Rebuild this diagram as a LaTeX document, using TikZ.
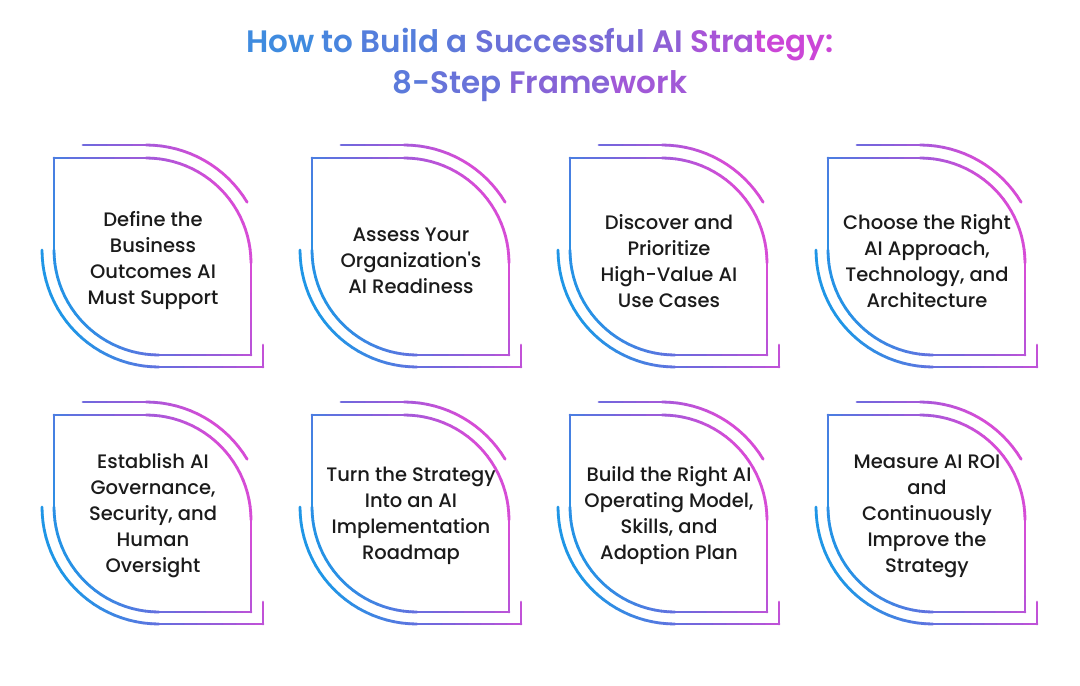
\documentclass[tikz,border=0pt]{standalone}
\usepackage{fontspec}
\newfontfamily\bodyfont{Poppins Medium}
\newfontfamily\titlefont{Poppins SemiBold}
\definecolor{gA}{HTML}{1F96E6}
\definecolor{gB}{HTML}{7B63DC}
\definecolor{gC}{HTML}{D64CD6}
\definecolor{hA}{HTML}{3A8EE0}
\definecolor{hB}{HTML}{7A68D6}
\definecolor{hC}{HTML}{E03ED8}
\definecolor{textc}{HTML}{1B1B1B}
\newcommand\setgc[2]{%
  \pgfmathsetmacro\gT{min(1,max(0,((#1)+0.39*(130-(#2)))/205))}%
  \pgfmathsetmacro\gP{\gT<0.5 ? 200*\gT : 200*\gT-100}%
  \ifdim\gT pt<0.5pt \colorlet{segc}{gB!\gP!gA}\else\colorlet{segc}{gC!\gP!gB}\fi}
\newcommand\gline[5]{%
  \foreach \k in {1,...,#5}{%
    \pgfmathsetmacro\gXa{#1+(#3-(#1))*(\k-1)/#5}%
    \pgfmathsetmacro\gYa{#2+(#4-(#2))*(\k-1)/#5}%
    \pgfmathsetmacro\gXb{#1+(#3-(#1))*\k/#5}%
    \pgfmathsetmacro\gYb{#2+(#4-(#2))*\k/#5}%
    \setgc{(\gXa+\gXb)/2}{(\gYa+\gYb)/2}%
    \draw[gstroke, draw=segc] ({\ox+\gXa},{\oy+\gYa}) -- ({\ox+\gXb},{\oy+\gYb});
  }}
\newcommand\garc[6]{%
  \foreach \k in {1,...,#6}{%
    \pgfmathsetmacro\gAa{#4+(#5-(#4))*(\k-1)/#6}%
    \pgfmathsetmacro\gAb{#4+(#5-(#4))*\k/#6}%
    \pgfmathsetmacro\gXa{#1+#3*cos(\gAa)}%
    \pgfmathsetmacro\gYa{#2-#3*sin(\gAa)}%
    \pgfmathsetmacro\gXb{#1+#3*cos(\gAb)}%
    \pgfmathsetmacro\gYb{#2-#3*sin(\gAb)}%
    \pgfmathsetmacro\gAm{(\gAa+\gAb)/2}%
    \setgc{#1+#3*cos(\gAm)}{#2-#3*sin(\gAm)}%
    \draw[gstroke, draw=segc] ({\ox+\gXa},{\oy+\gYa}) -- ({\ox+\gXb},{\oy+\gYb});
  }}
\newcommand\gcorner[3]{%
  \setgc{#1}{#2}%
  \ifx#3t\draw[cornerstroke, draw=segc] ({\ox+#1},{\oy+#2+8}) -- ({\ox+#1},{\oy+#2}) -- ({\ox+#1+8},{\oy+#2});
  \else\draw[cornerstroke, draw=segc] ({\ox+#1},{\oy+#2-8}) -- ({\ox+#1},{\oy+#2}) -- ({\ox+#1-8},{\oy+#2});\fi}
\newcommand\drawcard[2]{%
  \def\ox{#1}\def\oy{#2}%
  % inner frame
  \gline{0}{92}{0}{0}{6}%
  \gline{0}{0}{92}{0}{6}%
  \garc{92}{105}{105}{90}{0}{24}%
  \gline{197}{105}{197}{197}{6}%
  \gline{197}{197}{105}{197}{6}%
  \garc{105}{92}{105}{270}{180}{24}%
  \gcorner{0}{0}{t}%
  \gcorner{197}{197}{b}%
  % outer top arc
  \gline{29}{-13}{92}{-13}{5}%
  \garc{92}{105}{118}{90}{31}{16}%
  % outer bottom bracket
  \garc{105}{92}{117}{180}{270}{24}%
  \gline{105}{209}{209}{209}{8}%
  \gline{209}{209}{209}{187}{2}%
  \gcorner{209}{209}{b}%
}
\newcommand\tw[2]{\pgfmathsetmacro\gP{#1<0.5 ? 200*#1 : 200*#1-100}%
  \ifdim#1pt<0.5pt\colorlet{tc}{hB!\gP!hA}\else\colorlet{tc}{hC!\gP!hB}\fi\textcolor{tc}{#2}}
\begin{document}
\begin{tikzpicture}[x=1pt,y=-1pt,
  gstroke/.style={line width=2.8pt, line cap=round},
  cornerstroke/.style={line width=2.8pt, line cap=butt, line join=miter},
  cardtext/.style={align=center, text=textc, font=\bodyfont\fontsize{19.5}{26}\selectfont, inner sep=0pt},
  titletext/.style={anchor=base, font=\titlefont\fontsize{31}{38}\selectfont, inner sep=0pt}]
\fill[white] (0,0) rectangle (1080,686);
\useasboundingbox (0,0) rectangle (1080,686);
% title
\node[titletext] (title1) at (540,52) {\tw{0.04}{How} \tw{0.12}{to} \tw{0.21}{Build} \tw{0.28}{a} \tw{0.38}{Succe}\tw{0.49}{ssful} \tw{0.60}{AI} \tw{0.72}{Stra}\tw{0.90}{tegy:}};
\node[titletext] (title2) at (540,93) {\tw{0.26}{8-}\tw{0.36}{Step} \tw{0.56}{Frame}\tw{0.69}{work}};
% cards
\drawcard{54}{158}
\drawcard{312}{158}
\drawcard{570}{158}
\drawcard{828}{158}
\drawcard{54}{415}
\drawcard{312}{415}
\drawcard{570}{415}
\drawcard{828}{415}
% texts
\node[cardtext] (t1) at (153,261) {Define the\\Business\\Outcomes AI\\Must Support};
\node[cardtext] (t2) at (411,261) {Assess Your\\Organization's\\AI Readiness};
\node[cardtext] (t3) at (669,261) {Discover and\\Prioritize\\High-Value AI\\Use Cases};
\node[cardtext] (t4) at (927,261) {Choose the Right\\AI Approach,\\Technology, and\\Architecture};
\node[cardtext] (t5) at (153,516) {Establish AI\\Governance,\\Security, and\\Human\\Oversight};
\node[cardtext] (t6) at (411,516) {Turn the Strategy\\Into an AI\\Implementation\\Roadmap};
\node[cardtext] (t7) at (669,516) {Build the Right AI\\Operating Model,\\Skills, and\\Adoption Plan};
\node[cardtext] (t8) at (927,516) {Measure AI ROI\\and\\Continuously\\Improve the\\Strategy};
\end{tikzpicture}
\end{document}
